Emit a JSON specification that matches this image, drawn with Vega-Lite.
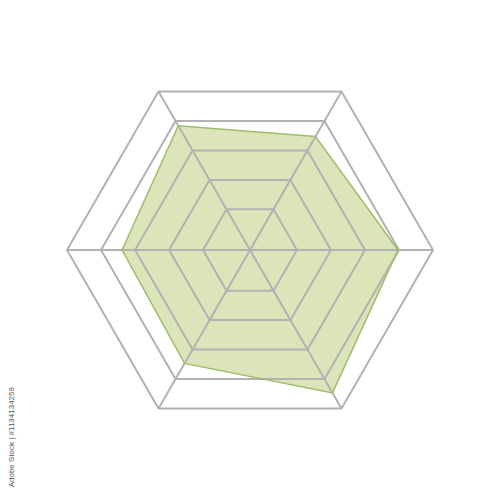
{
  "$schema": "https://vega.github.io/schema/vega-lite/v6.json",
  "width": 500,
  "height": 500,
  "autosize": {"type": "fit", "contains": "padding"},
  "padding": 0,
  "background": "white",
  "config": {"view": {"stroke": null}},
  "datasets": {
    "scores": [
      {"axis": 0, "value": 3.97},
      {"axis": 1, "value": 3.47},
      {"axis": 2, "value": 3.84},
      {"axis": 3, "value": 3.38},
      {"axis": 4, "value": 3.47},
      {"axis": 5, "value": 4.47}
    ],
    "rings": [
      {"ring": 1, "axis": [0, 1, 2, 3, 4, 5]},
      {"ring": 2, "axis": [0, 1, 2, 3, 4, 5]},
      {"ring": 3, "axis": [0, 1, 2, 3, 4, 5]},
      {"ring": 4, "axis": [0, 1, 2, 3, 4, 5]},
      {"ring": 5, "axis": [0, 1, 2, 3, 4, 5]}
    ],
    "spokes": [
      {"axis": 0, "value": 5},
      {"axis": 1, "value": 5},
      {"axis": 2, "value": 5},
      {"axis": 3, "value": 5},
      {"axis": 4, "value": 5},
      {"axis": 5, "value": 5}
    ],
    "credit": [
      {"label": "Adobe Stock | #1134134259", "px": -7.0, "py": -4.03}
    ]
  },
  "layer": [
    {
      "data": {"name": "scores"},
      "transform": [
        {"calculate": "datum.value + 0.38", "as": "r"},
        {"calculate": "datum.r * cos(datum.axis * PI / 3)", "as": "x"},
        {"calculate": "datum.r * sin(datum.axis * PI / 3)", "as": "y"}
      ],
      "mark": {"type": "line", "interpolate": "linear-closed", "fill": "#dce5b9", "strokeWidth": 0},
      "encoding": {
        "x": {"field": "x", "type": "quantitative", "scale": {"domain": [-7.35, 7.35], "nice": false}, "axis": null},
        "y": {"field": "y", "type": "quantitative", "scale": {"domain": [-7.35, 7.35], "nice": false}, "axis": null},
        "order": {"field": "axis", "type": "quantitative"}
      }
    },
    {
      "data": {"name": "rings"},
      "transform": [
        {"flatten": ["axis"]},
        {"calculate": "datum.ring + 0.38", "as": "r"},
        {"calculate": "datum.r * cos(datum.axis * PI / 3)", "as": "x"},
        {"calculate": "datum.r * sin(datum.axis * PI / 3)", "as": "y"}
      ],
      "mark": {"type": "line", "interpolate": "linear-closed", "color": "#b2b2b2", "strokeWidth": 2},
      "encoding": {
        "x": {"field": "x", "type": "quantitative", "axis": null},
        "y": {"field": "y", "type": "quantitative", "axis": null},
        "detail": {"field": "ring", "type": "nominal"},
        "order": {"field": "axis", "type": "quantitative"}
      }
    },
    {
      "data": {"name": "spokes"},
      "transform": [
        {"calculate": "datum.value + 0.38", "as": "r"},
        {"calculate": "0", "as": "x"},
        {"calculate": "0", "as": "y"},
        {"calculate": "datum.r * cos(datum.axis * PI / 3)", "as": "x2"},
        {"calculate": "datum.r * sin(datum.axis * PI / 3)", "as": "y2"}
      ],
      "mark": {"type": "rule", "color": "#b2b2b2", "strokeWidth": 2},
      "encoding": {
        "x": {"field": "x", "type": "quantitative", "axis": null},
        "y": {"field": "y", "type": "quantitative", "axis": null},
        "x2": {"field": "x2"},
        "y2": {"field": "y2"}
      }
    },
    {
      "data": {"name": "scores"},
      "transform": [
        {"calculate": "datum.value + 0.38", "as": "r"},
        {"calculate": "datum.r * cos(datum.axis * PI / 3)", "as": "x"},
        {"calculate": "datum.r * sin(datum.axis * PI / 3)", "as": "y"}
      ],
      "mark": {"type": "line", "interpolate": "linear-closed", "color": "#9ebc6b", "strokeWidth": 1.5},
      "encoding": {
        "x": {"field": "x", "type": "quantitative", "axis": null},
        "y": {"field": "y", "type": "quantitative", "axis": null},
        "order": {"field": "axis", "type": "quantitative"}
      }
    },
    {
      "data": {"name": "credit"},
      "mark": {"type": "text", "angle": 270, "align": "right", "baseline": "middle", "font": "Liberation Sans", "fontSize": 8, "color": "#555555"},
      "encoding": {
        "x": {"field": "px", "type": "quantitative", "axis": null},
        "y": {"field": "py", "type": "quantitative", "axis": null},
        "text": {"field": "label", "type": "nominal"}
      }
    }
  ]
}
